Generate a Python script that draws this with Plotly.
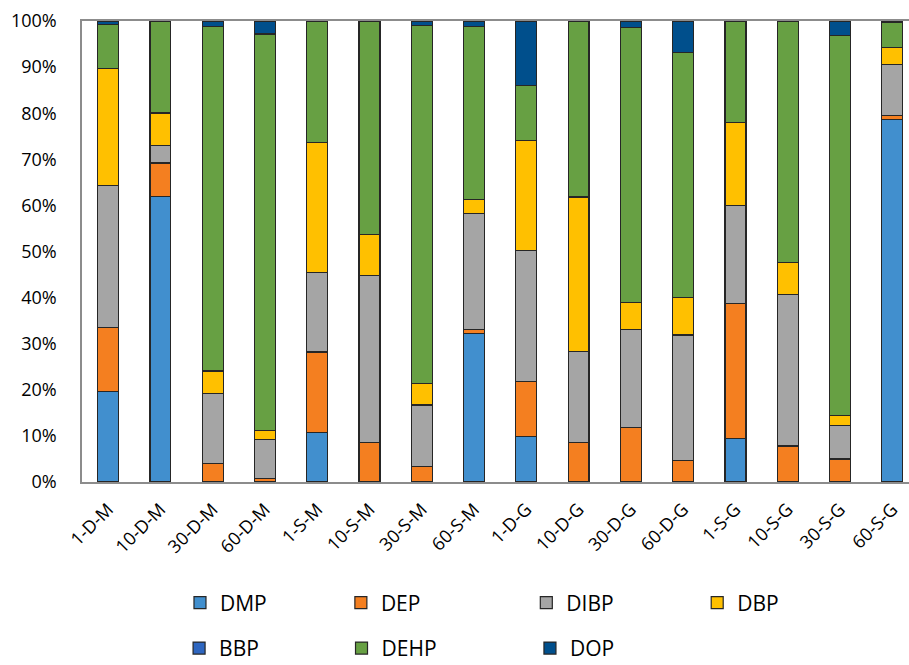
import plotly.graph_objects as go

# Sample groups along the x axis
samples = ["1-D-M", "10-D-M", "30-D-M", "60-D-M", "1-S-M", "10-S-M", "30-S-M", "60-S-M",
           "1-D-G", "10-D-G", "30-D-G", "60-D-G", "1-S-G", "10-S-G", "30-S-G", "60-S-G"]

# Percentage composition of each phthalate (None = not detected)
DMP = [19.7, 62.0, None, None, 10.7, None, None, 32.2, 9.8, None, None, None, 9.5, None, None, 78.7]
DEP = [13.8, 7.2, 4.0, 0.7, 17.5, 8.6, 3.3, 0.9, 12.0, 8.6, 11.9, 4.6, 29.2, 7.8, 5.0, 0.8]
DIBP = [30.9, 3.8, 15.2, 8.5, 17.3, 36.2, 13.4, 25.1, 28.4, 19.7, 21.2, 27.3, 21.2, 32.8, 7.2, 11.1]
DBP = [25.3, 6.9, 4.9, 1.9, 28.1, 8.9, 4.6, 3.1, 23.9, 33.4, 5.8, 8.2, 18.0, 7.1, 2.2, 3.6]
BBP = [None, 0.3, None, None, None, None, None, None, None, 0.3, None, None, None, None, None, None]
DEHP = [9.6, 19.8, 74.7, 86.1, 26.4, 46.3, 77.8, 37.5, 11.9, 38.0, 59.7, 53.1, 22.1, 52.3, 82.4, 5.5]
DOP = [0.7, None, 1.2, 2.8, None, None, 0.9, 1.2, 14.0, None, 1.4, 6.8, None, None, 3.2, 0.3]

series = [
    ("DMP", DMP, "#418fce"),
    ("DEP", DEP, "#f47f20"),
    ("DIBP", DIBP, "#a5a5a5"),
    ("DBP", DBP, "#ffc000"),
    ("BBP", BBP, "#2e66c0"),
    ("DEHP", DEHP, "#67a043"),
    ("DOP", DOP, "#004f8c"),
]

# Legend placement in container coords, one small legend per compound
legend_pos = [
    (0.198, 0.0932), (0.375, 0.0932), (0.579, 0.0932), (0.767, 0.0932),
    (0.197, 0.025), (0.3757, 0.025), (0.583, 0.025),
]

FONT = "Open Sans"

fig = go.Figure()
for i, (name, vals, color) in enumerate(series):
    lg = "legend" if i == 0 else f"legend{i + 1}"
    fig.add_trace(go.Bar(
        x=samples, y=vals, name=name,
        marker=dict(color=color, line=dict(color="#262626", width=1.2)),
        width=0.4, legend=lg,
    ))

layout_legends = {}
for i, (lx, ly) in enumerate(legend_pos):
    key = "legend" if i == 0 else f"legend{i + 1}"
    layout_legends[key] = dict(
        x=lx, y=ly, xref="container", yref="container",
        xanchor="left", yanchor="middle",
        font=dict(family=FONT, size=21, color="#000"),
        bgcolor="rgba(0,0,0,0)", borderwidth=0,
    )

fig.update_layout(
    barmode="stack",
    width=909, height=665,
    margin=dict(l=82, r=0, t=21, b=183, pad=0, autoexpand=False),
    plot_bgcolor="white", paper_bgcolor="white",
    showlegend=True,
    **layout_legends,
)

fig.update_xaxes(
    range=[-0.5, 15.32],
    tickangle=-45,
    tickfont=dict(family=FONT, size=18, color="#000"),
    showline=True, linecolor="#8c8c8c", linewidth=1.5, mirror=True,
    showgrid=False, ticks="", ticklabelstandoff=8,
)
fig.update_yaxes(
    range=[0, 100], dtick=10, ticksuffix="%",
    tickfont=dict(family=FONT, size=18, color="#000"),
    showline=True, linecolor="#8c8c8c", linewidth=1.5, mirror=True,
    showgrid=False, zeroline=False, ticks="", ticklabelstandoff=20,
)

fig.write_html("out.html")
